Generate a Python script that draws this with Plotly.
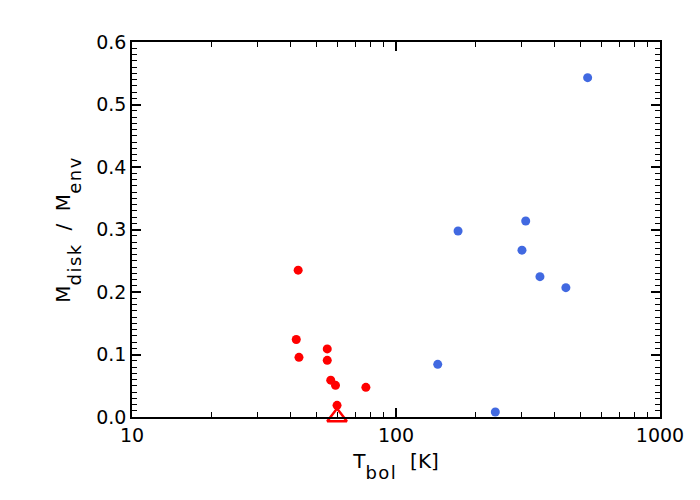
import plotly.graph_objects as go

# Class 0 sources (red) and Class I sources (blue)
tbol_red = [42.6, 41.9, 42.9, 54.9, 54.9, 56.6, 59.0, 76.9, 59.8]
ratio_red = [0.235, 0.124, 0.0955, 0.109, 0.0907, 0.059, 0.0507, 0.0475, 0.0187]

tbol_blue = [532, 171.8, 310, 300, 351, 440, 143.9, 237.8]
ratio_blue = [0.543, 0.2976, 0.3136, 0.267, 0.2246, 0.207, 0.0843, 0.008]

# upper limit source
tbol_lim = [59.8]
ratio_lim = [0.0]

x_minor = [20, 30, 40, 50, 60, 70, 80, 90, 200, 300, 400, 500, 600, 700, 800, 900]

fig = go.Figure()
fig.add_trace(go.Scatter(x=tbol_red, y=ratio_red, mode="markers",
                         marker=dict(color="#ff0000", size=9), cliponaxis=False))
fig.add_trace(go.Scatter(x=tbol_blue, y=ratio_blue, mode="markers",
                         marker=dict(color="#4169e1", size=9), cliponaxis=False))
fig.add_trace(go.Scatter(x=tbol_lim, y=ratio_lim, mode="markers",
                         marker=dict(symbol="triangle-up-open", color="#ff0000", size=17,
                                     line=dict(width=2.5, color="#ff0000")),
                         cliponaxis=False))

font = dict(family="DejaVu Sans, sans-serif", size=19, color="black")
# IDL-style subscript: almost full size, dropped well below the baseline
sub = "<span style='font-size:18px;letter-spacing:1.5px;baseline-shift:-11px'>%s</span>"
nb = "\u00a0"
fig.update_layout(
    width=700, height=500,
    margin=dict(l=124, r=48, t=34, b=91),
    plot_bgcolor="white", paper_bgcolor="white",
    showlegend=False, font=font,
)
fig.update_xaxes(type="log", range=[1, 3], showgrid=False, zeroline=False, automargin=False,
                 showline=True, linecolor="black", linewidth=1.5, mirror="ticks",
                 ticks="inside", ticklen=9, tickwidth=1.5, tickcolor="black",
                 tickvals=[10, 100, 1000], ticktext=["10", "100", "1000"],
                 minor=dict(ticks="inside", ticklen=5, tickwidth=1.2, tickcolor="black",
                            tickmode="array", tickvals=x_minor, showgrid=False),
                 title=dict(text="T" + sub % "bol" + nb * 2 + "[K]", standoff=9,
                            font=dict(size=20)))
fig.update_yaxes(range=[0, 0.6], showgrid=False, zeroline=False, automargin=False,
                 showline=True, linecolor="black", linewidth=1.5, mirror="ticks",
                 ticks="inside", ticklen=9, tickwidth=1.5, tickcolor="black",
                 dtick=0.1, tickformat=".1f",
                 minor=dict(ticks="inside", ticklen=5, tickwidth=1.2, tickcolor="black",
                            dtick=0.01, showgrid=False),
                 title=dict(text="M" + sub % "disk" + nb * 2 + "/" + nb * 2 + "M" + sub % "env",
                            standoff=20, font=dict(size=20)))

fig.write_html("out.html")
